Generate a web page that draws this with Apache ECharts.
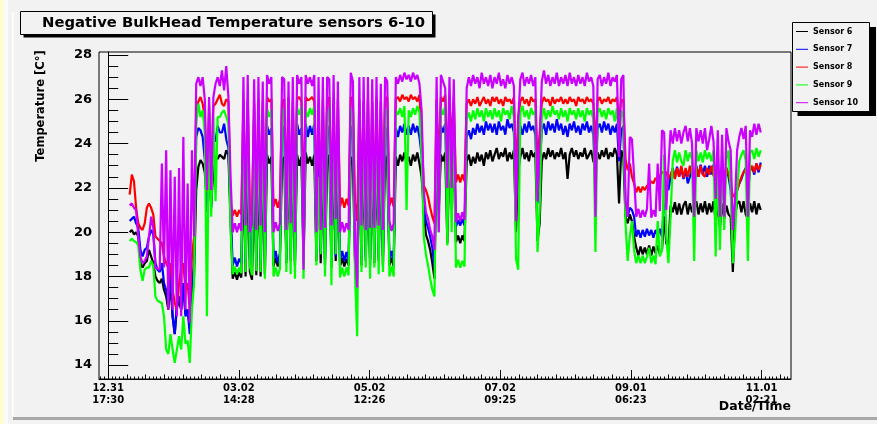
<!DOCTYPE html>
<html>
<head>
<meta charset="utf-8">
<script src="https://cdn.jsdelivr.net/npm/echarts@6/dist/echarts.min.js"></script>
<style>
html,body{margin:0;padding:0;background:#f2f2f2;}
#chart{width:877px;height:424px;}
</style>
</head>
<body>
<div id="chart"></div>
<script>
// ---- data (days since 12.31 17:30, one sample per day starting at startDay) ----
const startDay = 10;
const sensorNames = ['Sensor 6', 'Sensor 7', 'Sensor 8', 'Sensor 9', 'Sensor 10'];

const sensor6 = [
20.0,20.1,19.9,20.0,19.8,18.6,18.4,18.6,18.7,19.2,
18.9,18.6,18.0,17.8,17.7,17.9,17.4,17.1,16.5,17.7,
16.2,15.4,16.6,16.9,16.5,17.7,16.3,16.5,15.7,17.4,
18.0,21.9,22.95,23.25,23.1,22.7,21.4,22.7,21.2,22.9,
23.4,23.3,23.5,23.4,23.3,23.7,23.5,20.5,17.9,18.2,
17.85,18.2,17.95,23.1,18.0,23.2,18.2,17.85,23.0,18.05,
23.2,18.0,23.1,18.1,23.5,23.1,23.4,18.45,18.85,18.45,
18.8,23.2,23.4,18.6,23.3,18.7,23.2,18.5,23.5,23.0,
23.4,18.6,23.6,23.1,23.4,23.0,23.5,18.7,23.2,18.6,
23.3,18.5,23.1,23.5,18.4,23.3,18.7,23.4,18.45,18.85,
18.45,18.8,18.5,23.4,23.1,18.6,17.9,23.3,18.5,23.2,
18.7,23.4,18.5,23.1,18.6,23.3,18.7,23.2,18.5,23.5,
23.1,18.5,18.85,18.45,23.4,23.0,23.5,23.2,23.6,23.1,
23.4,23.0,23.5,23.2,23.6,23.1,22.5,21.0,19.9,19.6,
19.2,18.6,17.9,23.3,21.0,23.5,23.2,23.6,19.5,23.4,
21.5,23.3,19.55,19.85,19.5,19.85,19.6,23.2,23.5,23.0,
23.4,23.1,23.6,23.2,23.5,23.0,23.6,23.3,23.7,23.2,
23.5,23.8,23.3,23.6,23.4,23.8,23.2,23.6,23.3,23.7,
20.0,22.8,23.4,23.8,23.3,23.6,23.2,23.7,23.4,23.6,
19.6,20.4,23.2,23.6,23.3,23.8,23.4,23.7,23.3,23.6,
23.4,23.8,23.3,23.6,22.4,23.5,23.8,23.4,23.7,23.3,
23.6,23.4,23.8,23.3,23.5,23.7,23.2,23.0,23.6,23.3,
23.7,23.4,23.8,23.3,23.6,23.4,23.8,23.5,21.3,23.7,
23.4,20.7,20.4,20.8,20.5,19.8,19.3,18.95,19.35,19.0,
19.3,19.0,19.4,18.95,19.35,19.05,19.4,19.0,19.2,20.7,
19.5,19.3,21.2,20.9,21.35,20.8,21.3,20.8,21.2,21.4,
20.8,21.3,20.9,21.0,21.4,20.8,21.3,20.9,21.4,20.8,
21.3,20.9,21.4,20.5,21.2,20.2,21.3,20.6,21.2,20.8,
20.7,18.2,20.7,21.3,21.4,20.9,21.4,20.8,20.6,21.3,
20.9,21.4,20.8,21.3,21.0
];

const sensor7 = [
20.5,20.6,20.7,20.4,20.2,19.2,18.9,19.2,19.3,19.8,
20.1,19.9,18.6,18.3,18.2,18.6,17.7,17.4,16.8,18.4,
16.2,15.4,16.8,17.1,16.5,17.7,16.2,16.5,15.4,17.7,
18.6,24.3,24.7,24.6,24.3,23.3,20.9,24.1,21.1,24.2,
24.1,24.8,24.5,24.5,24.9,24.2,23.8,21.0,18.5,18.85,
18.45,18.8,18.6,24.4,18.65,24.7,18.8,18.45,24.5,18.7,
24.6,18.6,24.4,18.7,24.8,24.4,24.7,18.75,19.15,18.6,
19.05,24.5,24.8,18.75,24.6,19.0,24.4,18.7,24.9,24.4,
24.7,18.9,24.9,24.3,24.8,24.4,24.9,18.9,24.5,19.1,
24.6,18.8,24.4,24.8,18.7,24.6,18.9,24.8,18.75,19.15,
18.7,19.1,18.65,24.8,24.4,18.9,17.9,24.6,18.8,24.5,
18.9,24.7,18.8,24.4,19.0,24.6,18.85,24.5,18.9,24.8,
24.4,18.75,19.15,18.7,24.7,24.3,24.8,24.5,24.9,24.4,
24.8,24.4,24.9,24.5,24.8,24.3,23.5,21.3,20.5,20.2,
19.8,19.3,18.4,24.6,21.5,24.8,24.5,24.9,21.0,24.7,
22.0,24.6,20.25,20.55,20.3,20.6,20.3,24.3,24.6,24.2,
24.7,24.4,24.9,24.5,24.8,24.4,25.0,24.6,24.9,24.5,
24.9,24.4,25.0,24.6,24.8,24.4,25.1,24.7,24.9,24.5,
21.5,23.8,24.8,24.4,24.9,24.5,25.0,24.6,24.8,24.4,
21.3,23.0,24.6,24.9,24.4,25.0,24.6,24.9,24.5,25.1,
24.6,24.9,24.4,24.8,24.3,24.9,24.6,25.0,24.5,24.8,
24.4,24.9,24.6,25.0,24.5,24.8,24.4,22.5,24.7,24.9,
24.5,25.0,24.6,24.9,24.4,24.8,24.5,24.9,23.2,24.6,
24.8,21.1,20.7,21.1,21.0,20.7,19.8,20.1,19.75,20.1,
19.8,20.15,19.85,20.1,19.75,20.1,19.85,20.15,19.8,21.4,
22.2,21.9,22.5,22.9,22.45,22.95,22.5,22.9,22.4,22.8,
22.2,22.5,22.9,22.0,23.0,22.5,23.05,22.6,23.0,22.5,
23.0,22.6,23.05,22.0,22.85,21.8,23.0,22.3,22.9,22.5,
21.9,20.1,21.3,21.9,22.2,22.4,22.7,22.9,21.8,22.8,
22.95,22.6,23.1,22.7,23.15
];

const sensor8 = [
21.7,22.6,22.3,21.1,20.4,20.2,20.1,20.4,21.1,21.3,
21.1,20.8,19.8,19.7,19.6,19.5,18.9,18.6,18.4,18.6,
17.4,16.8,16.5,17.7,18.4,18.6,17.4,17.7,16.5,18.9,
19.8,25.5,25.9,26.1,25.8,25.2,21.8,25.7,22.2,25.7,
25.8,26.0,26.2,25.8,25.7,26.0,25.9,21.3,20.75,21.0,
20.7,21.0,20.8,25.9,20.8,26.0,21.0,20.7,25.8,20.9,
26.0,20.85,25.9,20.8,26.1,25.9,26.0,21.15,21.5,21.1,
21.5,25.9,26.0,21.6,26.1,21.3,25.9,21.35,26.0,26.1,
25.9,21.2,26.1,25.95,26.0,26.1,25.9,21.3,25.8,21.4,
26.0,21.3,25.9,26.1,21.2,26.0,21.4,26.0,21.15,21.55,
21.1,21.5,21.2,26.1,25.9,21.3,20.5,26.0,21.3,25.9,
21.4,26.0,21.2,25.9,21.3,26.1,21.4,25.9,21.3,26.0,
26.1,21.2,21.55,21.15,26.0,26.1,25.9,26.2,26.0,26.1,
25.9,26.2,26.0,26.1,25.9,26.2,24.5,22.1,21.9,21.6,
21.1,20.7,20.4,26.0,23.0,26.1,25.9,26.2,23.0,26.0,
24.0,26.1,22.25,22.6,22.25,22.6,22.3,25.8,26.0,25.7,
26.0,25.8,26.1,25.7,25.9,26.1,25.8,26.0,25.7,26.1,
25.9,26.1,25.8,26.0,25.7,26.1,25.9,26.0,25.8,26.1,
22.5,25.2,25.9,26.1,25.8,26.0,25.7,26.1,25.9,26.0,
23.0,24.5,25.8,26.1,25.9,26.0,25.7,26.1,25.8,26.0,
25.9,26.1,25.8,26.0,25.8,26.1,25.9,26.0,25.7,26.1,
25.9,26.0,25.8,26.1,25.9,26.0,25.8,24.0,25.9,26.1,
25.8,26.0,25.9,26.1,25.8,26.0,25.9,26.1,25.0,26.0,
25.9,23.3,22.8,23.1,22.5,22.2,21.8,22.05,21.8,22.05,
21.9,22.1,22.1,22.3,22.2,22.45,22.3,22.55,22.7,22.7,
22.7,22.4,22.6,22.85,22.4,22.9,22.5,23.0,22.45,22.9,
22.5,23.0,22.6,22.3,22.95,22.5,23.0,22.6,22.5,22.9,
22.6,23.0,22.55,22.4,22.9,22.3,23.0,22.5,22.9,22.6,
22.2,21.6,21.7,21.9,22.2,22.5,22.7,22.85,22.2,22.75,
23.0,22.7,23.1,22.8,23.05
];

const sensor9 = [
19.6,19.7,19.6,19.55,19.4,18.3,17.8,18.3,18.4,18.4,
18.7,18.5,17.1,16.9,16.85,16.8,16.2,14.7,14.5,15.4,
14.7,14.1,14.7,15.3,14.7,16.2,14.96,15.1,14.1,16.5,
17.7,24.9,25.8,25.2,25.5,24.5,16.2,25.2,20.7,25.2,
21.4,25.2,25.2,25.4,25.5,25.2,24.9,20.1,18.1,18.45,
18.1,18.4,18.15,25.3,18.2,25.6,18.45,18.05,25.4,18.25,
25.5,18.2,25.3,17.9,25.6,25.2,25.5,18.0,18.4,18.0,
18.35,25.4,25.6,18.2,25.3,18.1,25.5,17.9,25.6,25.3,
25.7,17.9,25.5,25.2,25.6,25.3,25.7,18.5,22.5,19.0,
25.4,18.0,25.3,25.6,17.6,25.5,19.0,25.4,17.95,18.4,
18.0,18.4,18.05,25.6,25.3,18.0,15.3,25.5,18.2,25.3,
18.4,25.6,17.9,25.4,18.4,25.5,18.1,25.3,18.2,25.6,
25.3,18.0,18.45,18.0,25.5,25.3,25.6,25.2,25.7,21.0,
25.5,25.2,25.6,25.3,25.7,25.4,23.5,19.8,19.0,18.5,
17.9,17.4,17.1,25.5,20.0,25.6,25.3,25.7,19.4,25.5,
20.0,25.4,18.4,18.75,18.4,18.7,18.45,25.1,25.4,25.0,
25.5,25.1,25.6,25.2,25.5,25.0,25.6,25.2,25.5,25.1,
25.6,25.2,25.5,25.0,25.6,25.3,25.5,25.1,25.7,25.2,
18.8,18.3,25.4,25.7,25.2,25.5,25.1,25.6,25.3,25.5,
19.1,21.0,25.2,25.6,25.1,25.5,25.2,25.7,25.3,25.5,
25.1,25.6,25.2,25.5,25.0,25.6,25.3,25.5,25.1,25.6,
25.2,25.5,25.0,25.6,25.3,25.5,25.1,19.1,25.4,25.6,
25.2,25.5,25.1,25.6,25.3,25.5,25.0,25.6,24.0,25.5,
25.2,20.4,18.7,19.8,20.5,19.2,18.6,18.95,18.6,18.95,
18.6,18.9,19.3,18.6,18.95,18.55,20.5,18.9,19.2,23.5,
19.8,18.6,20.7,23.2,23.7,23.15,23.6,23.2,23.0,23.7,
23.2,23.6,23.3,18.7,23.7,23.2,23.6,23.15,23.7,23.3,
23.6,23.2,23.7,18.9,23.4,19.2,23.6,20.1,23.3,23.7,
22.0,18.6,19.8,21.9,23.2,23.5,23.7,23.25,18.7,23.6,
23.7,23.3,23.8,23.4,23.7
];

const sensor10 = [
21.2,21.3,21.1,21.0,19.8,18.9,18.6,18.7,18.9,19.8,
20.7,20.2,18.4,18.35,18.3,23.1,18.4,23.7,16.5,22.8,
16.5,22.5,16.2,22.9,16.2,24.3,16.5,22.2,15.9,23.7,
19.8,26.7,27.0,26.6,27.0,26.0,21.9,26.1,21.9,26.1,
26.7,27.0,26.6,27.3,26.4,27.5,26.1,22.5,20.0,20.4,
20.0,20.4,20.05,27.0,20.3,27.1,20.0,20.4,26.9,20.1,
27.0,20.3,26.8,20.0,27.1,26.7,27.0,20.0,20.45,20.05,
20.4,27.0,26.9,20.1,26.8,20.4,27.0,20.0,27.1,26.7,
27.0,18.3,27.1,26.7,27.0,26.6,27.1,20.0,27.0,20.1,
27.0,20.2,27.0,26.9,20.3,27.1,20.6,26.8,20.0,20.45,
20.0,20.4,20.1,27.2,26.8,19.2,17.5,27.0,20.3,27.0,
20.1,27.0,20.2,26.9,20.2,27.0,20.3,26.7,20.1,27.0,
26.8,20.5,20.05,20.4,27.0,26.7,27.1,26.8,27.2,26.9,
27.1,26.8,27.2,26.9,27.1,26.7,25.5,21.9,20.9,20.6,
20.1,19.8,19.2,27.0,20.0,27.1,26.8,26.5,22.0,27.0,
22.0,26.9,20.45,20.85,20.5,20.9,20.55,26.5,27.0,26.6,
27.1,26.7,27.0,26.5,27.2,26.7,27.0,26.6,27.1,26.5,
27.0,26.7,27.2,26.6,26.9,26.5,27.1,26.7,27.0,26.6,
20.5,25.0,26.9,27.2,26.6,27.0,26.7,27.1,26.6,27.0,
21.4,24.0,26.8,27.3,26.7,27.1,26.6,27.0,26.7,27.2,
26.6,27.0,26.7,27.1,26.6,27.2,26.7,27.0,26.6,27.1,
26.7,27.0,26.6,27.2,26.8,27.0,26.6,20.7,26.9,27.1,
26.6,27.0,26.7,27.2,26.6,27.0,26.8,27.1,23.4,26.9,
27.1,21.4,20.7,24.3,24.2,22.5,20.7,21.05,20.65,21.0,
20.7,21.05,23.1,20.65,21.0,20.7,23.1,20.95,24.6,24.5,
21.0,23.0,24.6,24.0,24.7,24.1,24.6,24.0,24.5,24.8,
24.1,24.7,24.0,20.7,24.7,24.1,24.6,24.0,24.7,23.7,
24.2,24.8,24.1,21.5,24.6,20.7,24.4,20.7,24.7,24.1,
23.7,20.1,21.4,23.7,24.3,24.7,24.2,24.8,20.7,24.6,
24.3,24.9,24.4,24.9,24.5
];

// x-axis tick labels (date / time), one per major tick, ticks spaced tickStepDays apart from day 0
const tickLabels = ['12.31\n17:30', '03.02\n14:28', '05.02\n12:26', '07.02\n09:25', '09.01\n06:23', '11.01\n02:21'];
const tickStepDays = 60.874;
const yLabelValues = [14, 16, 18, 20, 22, 24, 26, 28];

// ---- styling / layout ----
const colors = ['#000000', '#0000ff', '#ff0000', '#00ff00', '#cc00ff'];
const FONT = '"DejaVu Sans", "Liberation Sans", sans-serif';
const xMin = -4.29, xMax = 318.1;
const yMin = 13.37, yMax = 28.135;

const allSensors = [sensor6, sensor7, sensor8, sensor9, sensor10];

const majorTicks = tickLabels.map((_, i) => i * tickStepDays);
function ticksEvery(step) {
  const out = [];
  for (let k = Math.ceil(xMin / step); k * step <= xMax; k++) out.push(k * step);
  return out;
}
const mediumTicks = ticksEvery(tickStepDays / 7);
const smallTicks = ticksEvery(tickStepDays / 35);
const yMinorTicks = [];
for (let v = 14; v <= 28; v += 0.5) yMinorTicks.push(v);

const grid = { left: 99, top: 52, width: 692, height: 327 };

function xAxisDef(ticks, len, showLabel) {
  return {
    type: 'value', gridIndex: 0, position: 'bottom', min: xMin, max: xMax,
    axisLine: { show: showLabel, lineStyle: { color: '#000', width: 1 } },
    splitLine: { show: false },
    axisTick: { show: true, inside: true, length: len, customValues: ticks, lineStyle: { color: '#000', width: 1 } },
    axisLabel: showLabel ? {
      show: true, customValues: majorTicks, margin: 3,
      formatter: function (v) {
        const i = Math.round(v / tickStepDays);
        return tickLabels[i] || '';
      },
      fontFamily: FONT, fontWeight: 'bold', fontSize: 10, lineHeight: 12.3, color: '#000'
    } : { show: false }
  };
}
function yAxisDef(ticks, len, showLabel) {
  return {
    type: 'value', gridIndex: 0, position: 'left', min: yMin, max: yMax,
    axisLine: { show: showLabel, lineStyle: { color: '#000', width: 1 } },
    splitLine: { show: false },
    axisTick: { show: true, inside: true, length: len, customValues: ticks, lineStyle: { color: '#000', width: 1 } },
    axisLabel: showLabel ? {
      show: true, customValues: yLabelValues, margin: 7,
      fontFamily: FONT, fontWeight: 'bold', fontSize: 13, color: '#000'
    } : { show: false }
  };
}

const series = allSensors.map((vals, si) => ({
  name: sensorNames[si],
  type: 'line',
  xAxisIndex: 0, yAxisIndex: 0,
  data: vals.map((v, i) => [startDay + i, v]),
  showSymbol: false,
  symbol: 'none',
  sampling: null,
  lineStyle: { color: colors[si], width: 2.2 },
  itemStyle: { color: colors[si] },
  z: 2 + si
}));

const chart = echarts.init(document.getElementById('chart'), null, { renderer: 'canvas' });
chart.setOption({
  animation: false,
  backgroundColor: '#f2f2f2',
  textStyle: { fontFamily: FONT },
  title: {
    text: 'Negative BulkHead Temperature sensors 6-10',
    left: 42, top: 14, padding: 0, z: 20,
    textStyle: { fontFamily: FONT, fontWeight: 'bold', fontSize: 14.8, lineHeight: 18, color: '#000' }
  },
  legend: {
    orient: 'vertical', left: 796, top: 26.5, padding: 0, z: 20,
    itemWidth: 12, itemHeight: 1, itemGap: 7.8, icon: 'rect',
    data: sensorNames,
    textStyle: { fontFamily: FONT, fontWeight: 'bold', fontSize: 8, lineHeight: 10, color: '#000' }
  },
  grid: Object.assign({ show: true, borderColor: '#000', borderWidth: 1, backgroundColor: '#f2f2f2', containLabel: false }, grid),
  xAxis: [
    xAxisDef(majorTicks, 9, true),
    xAxisDef(mediumTicks, 4.5, false),
    xAxisDef(smallTicks, 2.5, false)
  ],
  yAxis: [
    yAxisDef(yLabelValues, 20, true),
    yAxisDef(yMinorTicks, 10, false)
  ],
  series: series,
  graphic: [
    { type: 'rect', z: -10, shape: { x: 0, y: 0, width: 3.4, height: 424 }, style: { fill: '#ffffc8' } },
    { type: 'rect', z: -10, shape: { x: 3.4, y: 0, width: 4.6, height: 424 }, style: { fill: '#fbfbfb' } },
    { type: 'rect', z: -10, shape: { x: 12, y: 12, width: 1.5, height: 405 }, style: { fill: '#ffffff' } },
    { type: 'rect', z: -10, shape: { x: 13, y: 417, width: 864, height: 3 }, style: { fill: '#a8a8a8' } },
    // title box with shadow
    { type: 'rect', z: 10, shape: { x: 23.5, y: 14.5, width: 412, height: 23 }, style: { fill: '#000' } },
    { type: 'rect', z: 11, shape: { x: 20.5, y: 11.5, width: 412, height: 23 }, style: { fill: '#f2f2f2', stroke: '#000', lineWidth: 1 } },
    // legend box with shadow
    { type: 'rect', z: 10, shape: { x: 797.5, y: 27, width: 78.5, height: 89 }, style: { fill: '#000' } },
    { type: 'rect', z: 11, shape: { x: 792.5, y: 22.5, width: 77, height: 89 }, style: { fill: '#f2f2f2', stroke: '#000', lineWidth: 1 } },
    // axis titles
    { type: 'text', z: 20, x: 41.5, y: 106, rotation: Math.PI / 2,
      style: { text: 'Temperature [C°]', fill: '#000', font: 'bold 11.5px ' + FONT, align: 'center', verticalAlign: 'middle' } },
    { type: 'text', z: 20, x: 791, y: 406.5,
      style: { text: 'Date/Time', fill: '#000', font: 'bold 12.5px ' + FONT, align: 'right', verticalAlign: 'middle' } }
  ]
});
</script>
</body>
</html>
